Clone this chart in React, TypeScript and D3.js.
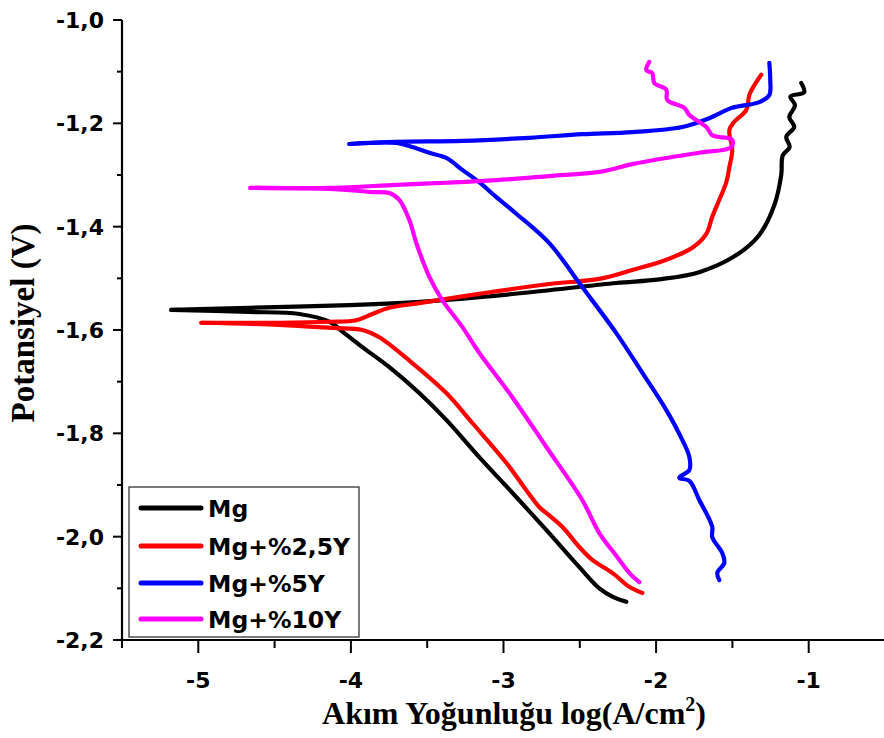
import React from "react";
import * as d3 from "d3";

// Tafel polarisation curves: [log(i), E] pairs, anodic and cathodic branches from Ecorr
const mgAnodic: [number, number][] = [
  [-5.177, -1.561], [-4.666, -1.557], [-4.01, -1.552], [-3.571, -1.546], [-3.139, -1.536],
  [-2.7, -1.523], [-2.261, -1.509], [-1.979, -1.502], [-1.717, -1.488], [-1.474, -1.455],
  [-1.324, -1.416], [-1.225, -1.358], [-1.18, -1.3], [-1.17, -1.262], [-1.125, -1.246],
  [-1.147, -1.226], [-1.095, -1.207], [-1.127, -1.188], [-1.09, -1.165], [-1.12, -1.148],
  [-1.03, -1.14], [-1.049, -1.122],
];
const mgCathodic: [number, number][] = [
  [-5.177, -1.561], [-4.666, -1.565], [-4.338, -1.569], [-4.142, -1.584], [-4.043, -1.606],
  [-3.925, -1.633], [-3.748, -1.672], [-3.552, -1.722], [-3.375, -1.774], [-3.159, -1.846],
  [-2.942, -1.915], [-2.72, -1.987], [-2.503, -2.059], [-2.372, -2.1], [-2.28, -2.117],
  [-2.195, -2.126],
];
const y25Anodic: [number, number][] = [
  [-4.98, -1.586], [-4.469, -1.586], [-4.142, -1.584], [-3.965, -1.581], [-3.86, -1.569],
  [-3.748, -1.557], [-3.552, -1.548], [-3.159, -1.53], [-2.7, -1.511], [-2.372, -1.501],
  [-2.156, -1.484], [-1.933, -1.464], [-1.763, -1.441], [-1.671, -1.414], [-1.632, -1.381],
  [-1.586, -1.348], [-1.54, -1.314], [-1.52, -1.285], [-1.501, -1.252], [-1.52, -1.213],
  [-1.488, -1.197], [-1.409, -1.174], [-1.389, -1.145], [-1.343, -1.12], [-1.311, -1.106],
];
const y25Cathodic: [number, number][] = [
  [-4.98, -1.586], [-4.469, -1.59], [-4.122, -1.596], [-3.925, -1.6], [-3.814, -1.614],
  [-3.598, -1.664], [-3.375, -1.722], [-3.204, -1.78], [-2.982, -1.857], [-2.851, -1.91],
  [-2.765, -1.943], [-2.72, -1.954], [-2.615, -1.981], [-2.503, -2.02], [-2.418, -2.045],
  [-2.287, -2.07], [-2.176, -2.097], [-2.09, -2.109],
];
const y5Anodic: [number, number][] = [
  [-4.01, -1.24], [-3.702, -1.236], [-3.27, -1.234], [-2.831, -1.228], [-2.484, -1.221],
  [-2.156, -1.217], [-1.828, -1.207], [-1.651, -1.19], [-1.501, -1.17], [-1.324, -1.159],
  [-1.258, -1.145], [-1.252, -1.116], [-1.258, -1.083],
];
const y5Cathodic: [number, number][] = [
  [-4.01, -1.24], [-3.702, -1.238], [-3.598, -1.246], [-3.486, -1.257], [-3.375, -1.267],
  [-3.27, -1.29], [-3.159, -1.314], [-3.047, -1.343], [-2.916, -1.375], [-2.7, -1.432],
  [-2.484, -1.517], [-2.261, -1.606], [-2.09, -1.683], [-1.933, -1.755], [-1.828, -1.813],
  [-1.782, -1.846], [-1.782, -1.871], [-1.848, -1.886], [-1.782, -1.892], [-1.717, -1.929],
  [-1.632, -1.981], [-1.632, -2.001], [-1.566, -2.032], [-1.553, -2.051], [-1.599, -2.07],
  [-1.586, -2.084],
];
const y10Anodic: [number, number][] = [
  [-4.659, -1.325], [-4.142, -1.325], [-3.702, -1.319], [-3.375, -1.315], [-3.047, -1.31],
  [-2.7, -1.302], [-2.372, -1.294], [-2.156, -1.279], [-1.933, -1.267], [-1.717, -1.257],
  [-1.507, -1.246], [-1.501, -1.232], [-1.632, -1.223], [-1.671, -1.207], [-1.782, -1.184],
  [-1.815, -1.17], [-1.927, -1.155], [-1.933, -1.135], [-2.012, -1.122], [-2.025, -1.103],
  [-2.064, -1.097], [-2.045, -1.081],
];
const y10Cathodic: [number, number][] = [
  [-4.659, -1.325], [-4.142, -1.327], [-3.86, -1.333], [-3.748, -1.335], [-3.683, -1.348],
  [-3.617, -1.387], [-3.571, -1.432], [-3.486, -1.497], [-3.401, -1.542], [-3.27, -1.594],
  [-3.159, -1.644], [-2.942, -1.73], [-2.72, -1.826], [-2.484, -1.929], [-2.372, -1.993],
  [-2.261, -2.037], [-2.176, -2.07], [-2.11, -2.088],
];

const seriesNames = ["Mg", "Mg+%2,5Y", "Mg+%5Y", "Mg+%10Y"];
const seriesColors = ["#000000", "#ff0000", "#0000ff", "#ff00ff"];
const seriesBranches = [
  [mgAnodic, mgCathodic],
  [y25Anodic, y25Cathodic],
  [y5Anodic, y5Cathodic],
  [y10Anodic, y10Cathodic],
];

const xTicks = [-5, -4, -3, -2, -1];
const xMinorTicks = [-5.5, -4.5, -3.5, -2.5, -1.5];
const yTicks = [-1.0, -1.2, -1.4, -1.6, -1.8, -2.0, -2.2];
const yMinorTicks = [-1.1, -1.3, -1.5, -1.7, -1.9, -2.1];

const xTitle = "Akım Yoğunluğu log(A/cm";
const yTitle = "Potansiyel (V)";

const W = 884;
const H = 738;
const left = 122;
const right = 885;
const top = 20;
const bottom = 640;

export default function App() {
  const x = d3.scaleLinear().domain([-5.5, -0.5]).range([left, right]);
  const y = d3.scaleLinear().domain([-1.0, -2.2]).range([top, bottom]);
  const line = d3
    .line<[number, number]>()
    .x((d) => x(d[0]))
    .y((d) => y(d[1]))
    .curve(d3.curveCatmullRom.alpha(0.5));
  const fmtY = (v: number) => v.toFixed(1).replace(".", ",");
  const tickFont = "'DejaVu Sans', sans-serif";
  const titleFont = "'Liberation Serif', 'Times New Roman', serif";

  const legendX = 129;
  const legendY = 487;
  const rowY = [508, 546, 583, 619];

  return (
    <svg
      width={W}
      height={H}
      style={{ position: "absolute", left: 0, top: 0, background: "#fff" }}
    >
      {/* curves */}
      {seriesBranches.map((branches, i) =>
        branches.map((pts, j) => (
          <path
            key={`${i}-${j}`}
            d={line(pts) || ""}
            fill="none"
            stroke={seriesColors[i]}
            strokeWidth={4.2}
            strokeLinejoin="round"
            strokeLinecap="round"
          />
        ))
      )}

      {/* axes */}
      <line x1={left} x2={left} y1={top} y2={bottom + 1} stroke="#000" strokeWidth={2.2} />
      <line x1={left - 1} x2={W} y1={bottom} y2={bottom} stroke="#000" strokeWidth={2.2} />

      {yTicks.map((t) => (
        <g key={`yt${t}`}>
          <line x1={left - 9} x2={left} y1={y(t)} y2={y(t)} stroke="#000" strokeWidth={2} />
          <text
            x={104}
            y={y(t) + 8}
            textAnchor="end"
            fontFamily={tickFont}
            fontWeight="bold"
            fontSize={22}
            fill="#000"
          >
            {fmtY(t)}
          </text>
        </g>
      ))}
      {yMinorTicks.map((t) => (
        <line key={`ym${t}`} x1={left - 5} x2={left} y1={y(t)} y2={y(t)} stroke="#000" strokeWidth={2} />
      ))}
      {xTicks.map((t) => (
        <g key={`xt${t}`}>
          <line x1={x(t)} x2={x(t)} y1={bottom} y2={bottom + 13} stroke="#000" strokeWidth={2} />
          <text
            x={x(t)}
            y={688}
            textAnchor="middle"
            fontFamily={tickFont}
            fontWeight="bold"
            fontSize={22}
            fill="#000"
          >
            {String(t)}
          </text>
        </g>
      ))}
      {xMinorTicks.map((t) => (
        <line key={`xm${t}`} x1={x(t)} x2={x(t)} y1={bottom} y2={bottom + 8} stroke="#000" strokeWidth={2} />
      ))}

      {/* axis titles */}
      <text
        x={514}
        y={724}
        textAnchor="middle"
        fontFamily={titleFont}
        fontWeight="bold"
        fontSize={32}
        fill="#000"
      >
        {xTitle}
        <tspan fontSize={20} dy={-13}>2</tspan>
        <tspan dy={13}>)</tspan>
      </text>
      <text
        transform={`translate(34, 323) rotate(-90)`}
        textAnchor="middle"
        fontFamily={titleFont}
        fontWeight="bold"
        fontSize={33}
        fill="#000"
      >
        {yTitle}
      </text>

      {/* legend */}
      <rect
        x={legendX}
        y={legendY}
        width={230}
        height={150}
        fill="#fff"
        stroke="#333"
        strokeWidth={1.3}
      />
      {seriesNames.map((name, i) => (
        <g key={name}>
          <line
            x1={141}
            x2={201}
            y1={rowY[i]}
            y2={rowY[i]}
            stroke={seriesColors[i]}
            strokeWidth={5}
            strokeLinecap="round"
          />
          <text
            x={208}
            y={rowY[i] + 9}
            fontFamily={tickFont}
            fontWeight="bold"
            fontSize={23.5}
            fill="#000"
          >
            {name}
          </text>
        </g>
      ))}
    </svg>
  );
}
